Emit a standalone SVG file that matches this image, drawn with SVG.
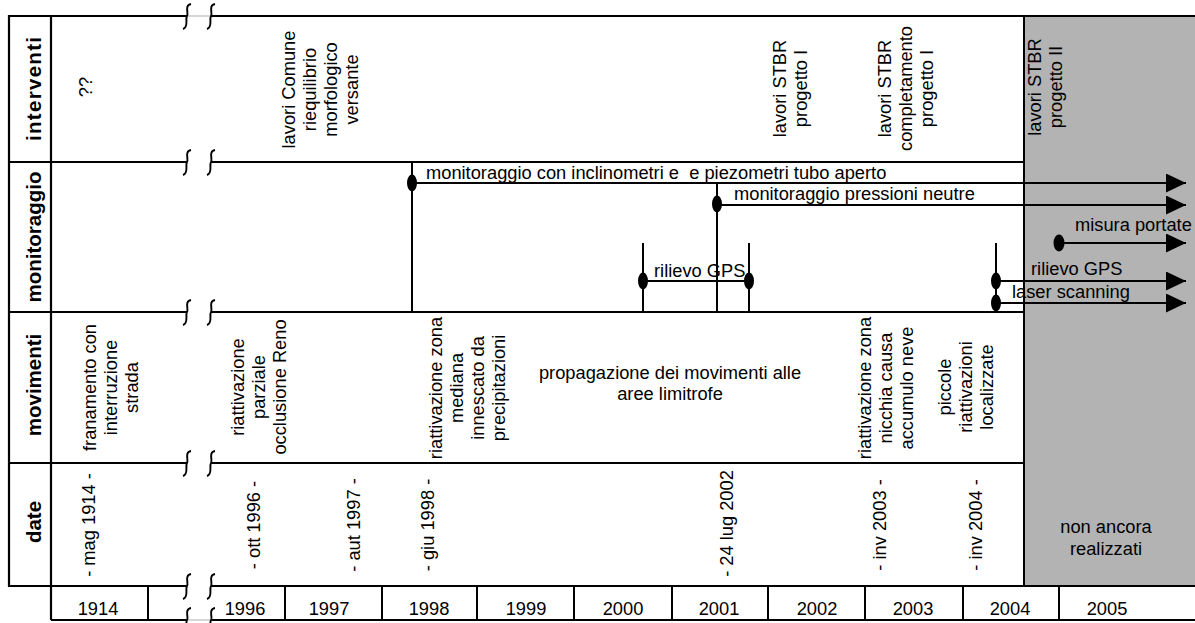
<svg xmlns="http://www.w3.org/2000/svg" width="1195" height="623" viewBox="0 0 1195 623">
<style>
.t{font-family:"Liberation Sans",Arial,sans-serif;font-size:18.3px;fill:#000}
.m{text-anchor:middle}
.h{font-family:"Liberation Sans",Arial,sans-serif;font-size:20.5px;font-weight:bold;text-anchor:middle;fill:#000}
.ln{stroke:#000;stroke-width:2;fill:none}
.fr{stroke:#000;stroke-width:2.2;fill:none}
.thin{stroke:#bbb;stroke-width:1.2;fill:none}
.brk{stroke:#000;stroke-width:1.9;fill:none}
.dot{fill:#000}
</style>
<defs>
<marker id="arr" viewBox="0 0 20 19" refX="20" refY="9.5" markerWidth="20" markerHeight="19" markerUnits="userSpaceOnUse" orient="auto">
<path d="M0,0 L20,9.5 L0,19 z" fill="#000"/>
</marker>
<path id="bk" d="M4,-12 C-3,-11 2,-2 0,0 C-2,3 2,11 -4,13" class="brk"/>
</defs>
<rect x="0" y="0" width="1195" height="623" fill="#fff"/>
<rect x="1024" y="16" width="171" height="570" fill="#b3b3b3"/>

<g id="frame">
<line class="fr" x1="9" y1="16" x2="187" y2="16"/>
<line class="fr" x1="211" y1="16" x2="1195" y2="16"/>
<line class="thin" x1="187" y1="16" x2="211" y2="16"/>
<line class="fr" x1="9" y1="15" x2="9" y2="587"/>
<line class="fr" x1="51" y1="16" x2="51" y2="620"/>
<line class="ln" x1="9" y1="162" x2="187" y2="162"/>
<line class="ln" x1="211" y1="162" x2="1024" y2="162"/>
<line class="ln" x1="9" y1="312" x2="187" y2="312"/>
<line class="ln" x1="211" y1="312" x2="1024" y2="312"/>
<line class="ln" x1="9" y1="463" x2="187" y2="463"/>
<line class="ln" x1="211" y1="463" x2="1024" y2="463"/>
<line class="fr" x1="9" y1="586" x2="187" y2="586"/>
<line class="fr" x1="211" y1="586" x2="1195" y2="586"/>
<line class="ln" x1="1024" y1="16" x2="1024" y2="586"/>
<line class="ln" x1="51" y1="620" x2="187" y2="620"/>
<line class="ln" x1="211" y1="620" x2="1195" y2="620"/>
<line class="thin" x1="187" y1="620" x2="211" y2="620"/>
<line class="ln" x1="148" y1="586" x2="148" y2="620"/>
<line class="ln" x1="285" y1="586" x2="285" y2="620"/>
<line class="ln" x1="382" y1="586" x2="382" y2="620"/>
<line class="ln" x1="477" y1="586" x2="477" y2="620"/>
<line class="ln" x1="574" y1="586" x2="574" y2="620"/>
<line class="ln" x1="672" y1="586" x2="672" y2="620"/>
<line class="ln" x1="768" y1="586" x2="768" y2="620"/>
<line class="ln" x1="865" y1="586" x2="865" y2="620"/>
<line class="ln" x1="963" y1="586" x2="963" y2="620"/>
<line class="ln" x1="1059" y1="586" x2="1059" y2="620"/>
</g>

<g id="breaks">
<use href="#bk" x="187" y="16"/><use href="#bk" x="211" y="16"/>
<use href="#bk" x="187" y="162"/><use href="#bk" x="211" y="162"/>
<use href="#bk" x="187" y="312"/><use href="#bk" x="211" y="312"/>
<use href="#bk" x="187" y="463"/><use href="#bk" x="211" y="463"/>
<use href="#bk" x="187" y="586"/><use href="#bk" x="211" y="586"/>
<use href="#bk" x="187" y="620"/><use href="#bk" x="211" y="620"/>
</g>

<g id="row-labels">
<text class="h" transform="translate(40.5,89) rotate(-90)" textLength="104" lengthAdjust="spacing">interventi</text>
<text class="h" transform="translate(40.5,237) rotate(-90)">monitoraggio</text>
<text class="h" transform="translate(40.5,385) rotate(-90)">movimenti</text>
<text class="h" transform="translate(40.5,522) rotate(-90)">date</text>
</g>

<g id="interventi">
<text class="t m" transform="translate(92,87) rotate(-90)">??</text>
<text class="t m" transform="translate(295,89.5) rotate(-90)"><tspan x="0" y="0">lavori Comune</tspan><tspan x="0" dy="21">riequilibrio</tspan><tspan x="0" dy="21">morfologico</tspan><tspan x="0" dy="21">versante</tspan></text>
<text class="t m" transform="translate(786,88.5) rotate(-90)"><tspan x="0" y="0">lavori STBR</tspan><tspan x="0" dy="21">progetto I</tspan></text>
<text class="t m" transform="translate(891,88.5) rotate(-90)"><tspan x="0" y="0">lavori STBR</tspan><tspan x="0" dy="21">completamento</tspan><tspan x="0" dy="21">progetto I</tspan></text>
<text class="t m" transform="translate(1041,87) rotate(-90)"><tspan x="0" y="0">lavori STBR</tspan><tspan x="0" dy="21">progetto II</tspan></text>
</g>

<g id="movimenti">
<text class="t m" transform="translate(96,387.5) rotate(-90)"><tspan x="0" y="0">franamento con</tspan><tspan x="0" dy="21">interruzione</tspan><tspan x="0" dy="21">strada</tspan></text>
<text class="t m" transform="translate(244,387) rotate(-90)"><tspan x="0" y="0">riattivazione</tspan><tspan x="0" dy="21">parziale</tspan><tspan x="0" dy="21">occlusione Reno</tspan></text>
<text class="t m" transform="translate(442,388) rotate(-90)"><tspan x="0" y="0">riattivazione zona</tspan><tspan x="0" dy="21">mediana</tspan><tspan x="0" dy="21">innescato da</tspan><tspan x="0" dy="21">precipitazioni</tspan></text>
<text class="t m"><tspan x="670" y="379">propagazione dei movimenti alle</tspan><tspan x="670" y="400">aree limitrofe</tspan></text>
<text class="t m" transform="translate(871,388) rotate(-90)"><tspan x="0" y="0">riattivazione zona</tspan><tspan x="0" dy="21">nicchia causa</tspan><tspan x="0" dy="21">accumulo neve</tspan></text>
<text class="t m" transform="translate(951,387) rotate(-90)"><tspan x="0" y="0">piccole</tspan><tspan x="0" dy="21">riattivazioni</tspan><tspan x="0" dy="21">localizzate</tspan></text>
</g>

<g id="date">
<text class="t m" transform="translate(95,525) rotate(-90)">- mag 1914 -</text>
<text class="t m" transform="translate(260,525) rotate(-90)">- ott 1996 -</text>
<text class="t m" transform="translate(360,525) rotate(-90)">- aut 1997 -</text>
<text class="t m" transform="translate(434,525) rotate(-90)">- giu 1998 -</text>
<text class="t m" transform="translate(733,523.5) rotate(-90)">- 24 lug 2002</text>
<text class="t m" transform="translate(886,525) rotate(-90)">- inv 2003 -</text>
<text class="t m" transform="translate(982,525) rotate(-90)">- inv 2004 -</text>
<text class="t m"><tspan x="1106" y="533">non ancora</tspan><tspan x="1106" y="555">realizzati</tspan></text>
</g>

<g id="anni">
<text class="t m" x="98" y="615">1914</text>
<text class="t m" x="245" y="615">1996</text>
<text class="t m" x="329" y="615">1997</text>
<text class="t m" x="429" y="615">1998</text>
<text class="t m" x="526" y="615">1999</text>
<text class="t m" x="623" y="615">2000</text>
<text class="t m" x="719" y="615">2001</text>
<text class="t m" x="817" y="615">2002</text>
<text class="t m" x="913" y="615">2003</text>
<text class="t m" x="1010" y="615">2004</text>
<text class="t m" x="1107" y="615">2005</text>
</g>

<g id="connectors">
<line class="ln" x1="412" y1="162" x2="412" y2="312"/>
<line class="ln" x1="412" y1="183" x2="1186" y2="183" marker-end="url(#arr)"/>
<line class="ln" x1="717" y1="183" x2="717" y2="312"/>
<line class="ln" x1="717" y1="205" x2="1186" y2="205" marker-end="url(#arr)"/>
<line class="ln" x1="643" y1="243" x2="643" y2="312"/>
<line class="ln" x1="749" y1="243" x2="749" y2="312"/>
<line class="ln" x1="643" y1="281" x2="749" y2="281"/>
<line class="ln" x1="996" y1="243" x2="996" y2="312"/>
<line class="ln" x1="996" y1="281" x2="1186" y2="281" marker-end="url(#arr)"/>
<line class="ln" x1="996" y1="303" x2="1186" y2="303" marker-end="url(#arr)"/>
<line class="ln" x1="1059" y1="243" x2="1186" y2="243" marker-end="url(#arr)"/>
<ellipse class="dot" cx="412" cy="183" rx="5" ry="8.5"/>
<ellipse class="dot" cx="717" cy="204" rx="5" ry="8.5"/>
<ellipse class="dot" cx="643" cy="281" rx="5" ry="8.5"/>
<ellipse class="dot" cx="749" cy="281" rx="5" ry="8.5"/>
<ellipse class="dot" cx="996" cy="281" rx="5" ry="8.5"/>
<ellipse class="dot" cx="996" cy="303" rx="5" ry="8.5"/>
<ellipse class="dot" cx="1059" cy="243" rx="5.5" ry="8.5"/>
</g>

<g id="monitoraggio-labels">
<text class="t" x="426" y="179" style="white-space:pre">monitoraggio con inclinometri e  e piezometri tubo aperto</text>
<text class="t" x="734" y="200">monitoraggio pressioni neutre</text>
<text class="t" x="654" y="277">rilievo GPS</text>
<text class="t" x="1075" y="231">misura portate</text>
<text class="t" x="1031" y="275">rilievo GPS</text>
<text class="t" x="1012" y="298">laser scanning</text>
</g>
</svg>
